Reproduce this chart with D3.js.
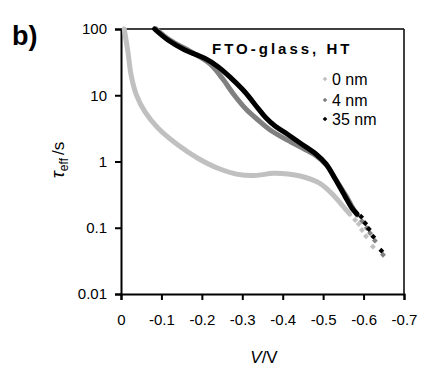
<!DOCTYPE html>
<html lang="en">
<head>
    <meta charset="UTF-8">
    <title>tau_eff vs V, FTO-glass HT</title>
    <script src="https://d3js.org/d3.v7.min.js"></script>
    <style>
        body { margin: 0; background: #fff; }
        text { font-family: "Liberation Sans", Arial, sans-serif; fill: #000; }
        .axis path, .axis line { stroke: #000; stroke-width: 2; }
        .axis text { font-size: 15px; }
    </style>
</head>
<body>
<svg height="368" width="424"></svg>

<script>
    // x ticks (V) and y ticks (tau_eff, s)
    const xTicks = [0, -0.1, -0.2, -0.3, -0.4, -0.5, -0.6, -0.7];
    const yTicks = [0.01, 0.1, 1, 10, 100];
    const yTickLabels = ["0.01", "0.1", "1", "10", "100"];

    const seriesNames = ["0 nm", "4 nm", "35 nm"];
    const seriesColors = ["#c0c0c0", "#808080", "#000000"];

    // dense part of each curve: [V, tau]
    const curve0nm = [[-0.008,100],[-0.017,45.4],[-0.025,20.2],[-0.038,10.1],[-0.059,5.65],[-0.092,3.17],
        [-0.141,1.77],[-0.19,1.12],[-0.24,0.79],[-0.289,0.64],[-0.331,0.615],[-0.377,0.664],[-0.413,0.648],
        [-0.443,0.604],[-0.492,0.469],[-0.525,0.312],[-0.55,0.208],[-0.566,0.161]];
    const curve4nm = [[-0.087,100],[-0.121,68],[-0.161,49.9],[-0.195,37.8],[-0.223,28.6],[-0.25,18.2],
        [-0.28,10.1],[-0.309,6.2],[-0.339,4.23],[-0.369,2.99],[-0.406,2.19],[-0.443,1.66],[-0.48,1.25],
        [-0.51,0.855],[-0.532,0.526],[-0.557,0.3],[-0.574,0.195],[-0.584,0.156]];
    const curve35nm = [[-0.083,100],[-0.116,68.2],[-0.158,48.2],[-0.207,36.1],[-0.24,27],[-0.273,18],
        [-0.306,11.3],[-0.339,6.35],[-0.359,4.54],[-0.381,3.43],[-0.411,2.6],[-0.443,1.9],[-0.482,1.3],
        [-0.507,0.92],[-0.527,0.584],[-0.554,0.3],[-0.571,0.199],[-0.584,0.161]];

    // sparse tail points, drawn as single diamonds
    const tail0nm = [[-0.579,0.131],[-0.588,0.114],[-0.596,0.0925],[-0.606,0.0743],[-0.623,0.0518]];
    const tail4nm = [[-0.596,0.126],[-0.608,0.099],[-0.616,0.083],[-0.628,0.0638],[-0.648,0.0392]];
    const tail35nm = [[-0.594,0.147],[-0.604,0.117],[-0.613,0.0957],[-0.624,0.0733],[-0.644,0.0451]];

    const curves = [curve0nm, curve4nm, curve35nm];
    const tails = [tail0nm, tail4nm, tail35nm];

    const svg = d3.select("svg");

    const x = d3.scaleLinear().domain([0, -0.7]).range([121, 404]);
    const y = d3.scaleLog().domain([0.01, 100]).range([294, 29]);

    // frame top / right
    svg.append("line").attr("x1", 121).attr("x2", 404).attr("y1", 29).attr("y2", 29)
        .attr("stroke", "#000").attr("stroke-width", 1.5);
    svg.append("line").attr("x1", 404).attr("x2", 404).attr("y1", 29).attr("y2", 294)
        .attr("stroke", "#000").attr("stroke-width", 1.5);

    svg.append("g").attr("class", "axis")
        .attr("transform", "translate(0,294)")
        .call(d3.axisBottom(x).tickValues(xTicks).tickSizeOuter(0).tickSize(6).tickPadding(14)
            .tickFormat(d => d === 0 ? "0" : d.toFixed(1)));

    svg.append("g").attr("class", "axis")
        .attr("transform", "translate(121,0)")
        .call(d3.axisLeft(y).tickValues(yTicks).tickSizeOuter(0).tickSize(6).tickPadding(8)
            .tickFormat((d, i) => yTickLabels[i]));

    const line = d3.line()
        .x(d => x(d[0]))
        .y(d => y(d[1]))
        .curve(d3.curveCatmullRom);

    const diamond = d3.symbol().type(d3.symbolDiamond2).size(22);

    curves.forEach(function(c, i) {
        svg.append("path")
            .attr("d", line(c))
            .attr("fill", "none")
            .attr("stroke", seriesColors[i])
            .attr("stroke-width", 5)
            .attr("stroke-linecap", "round")
            .attr("stroke-linejoin", "round");

        svg.selectAll(null)
            .data(tails[i])
            .enter()
            .append("path")
            .attr("d", diamond)
            .attr("fill", seriesColors[i])
            .attr("transform", d => "translate(" + x(d[0]) + "," + y(d[1]) + ")");
    });

    // title inside plot
    svg.append("text")
        .attr("x", 212).attr("y", 54)
        .style("font-size", "15px").style("font-weight", "bold").style("letter-spacing", "3px")
        .text("FTO-glass, HT");

    // legend
    const legendY = [79, 100, 119];
    seriesNames.forEach(function(name, i) {
        svg.append("path")
            .attr("d", d3.symbol().type(d3.symbolDiamond2).size(14)())
            .attr("fill", seriesColors[i])
            .attr("transform", "translate(325," + legendY[i] + ")");
        svg.append("text")
            .attr("x", 332).attr("y", legendY[i] + 5.5)
            .style("font-size", "16px")
            .text(name);
    });

    // panel label
    svg.append("text")
        .attr("x", 12).attr("y", 45)
        .style("font-size", "27px").style("font-weight", "bold")
        .text("b)");

    // axis titles
    const xt = svg.append("text")
        .attr("x", 264).attr("y", 363)
        .attr("text-anchor", "middle")
        .style("font-size", "17px");
    xt.append("tspan").style("font-style", "italic").text("V");
    xt.append("tspan").text("/V");

    const yt = svg.append("text")
        .attr("transform", "translate(64,160) rotate(-90)")
        .attr("text-anchor", "middle")
        .style("font-size", "17px");
    yt.append("tspan").style("font-style", "italic").style("font-size", "19px").text("τ");
    yt.append("tspan").attr("dy", 4).style("font-size", "12px").text("eff");
    yt.append("tspan").attr("dy", -4).attr("dx", 3).text("/s");
</script>

</body>
</html>
